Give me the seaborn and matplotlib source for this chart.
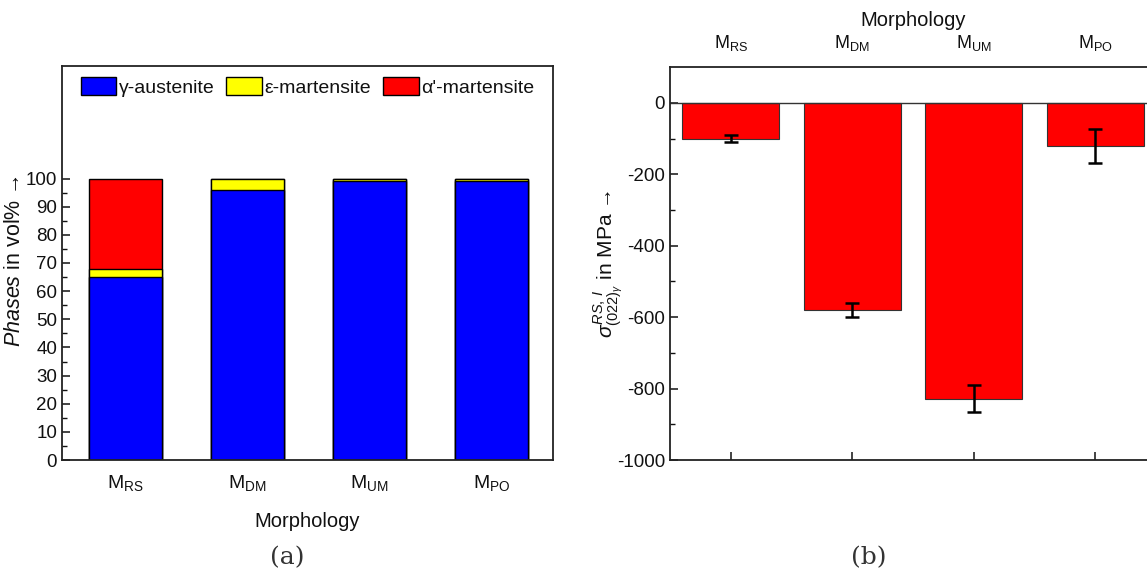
import numpy as np
import pandas as pd
import matplotlib
matplotlib.use("Agg")
import matplotlib.pyplot as plt
from matplotlib.patches import Patch
from matplotlib.ticker import FixedLocator
import seaborn as sns

# data
morph = ["RS", "DM", "UM", "PO"]
gamma = [65, 96, 99, 99]      # gamma-austenite, vol%
eps = [3, 4, 1, 1]            # epsilon-martensite, vol%
alpha = [32, 0, 0, 0]         # alpha'-martensite, vol%
stress = [-100, -580, -828, -121]   # residual stress, MPa
stress_err = [11, 20, 37, 47]

labels = [r"M$_{\mathrm{%s}}$" % m for m in morph]

sns.set_theme(style="ticks")
plt.rcParams["font.family"] = ["Liberation Sans", "DejaVu Sans"]
plt.rcParams["mathtext.fontset"] = "custom"
plt.rcParams["mathtext.rm"] = "Liberation Sans"
plt.rcParams["mathtext.it"] = "Liberation Sans:italic"
plt.rcParams["mathtext.bf"] = "Liberation Sans:bold"
plt.rcParams["axes.unicode_minus"] = False
plt.rcParams["axes.linewidth"] = 1.3
plt.rcParams["axes.edgecolor"] = "#222222"
for k in ["text.color", "axes.labelcolor", "xtick.color", "ytick.color"]:
    plt.rcParams[k] = "#111111"

fig = plt.figure(figsize=(11.47, 5.78), dpi=100)
ax1 = fig.add_axes([0.054, 0.204, 0.428, 0.682])
ax2 = fig.add_axes([0.584, 0.204, 0.424, 0.680])

# (a) stacked phase fractions
df = pd.DataFrame({"morph": labels, "gamma": gamma, "eps": eps, "alpha": alpha})
df["top_eps"] = df["gamma"] + df["eps"]
df["top_alpha"] = df["top_eps"] + df["alpha"]

sns.barplot(data=df, x="morph", y="top_alpha", color="#ff0000", saturation=1,
            width=0.6, edgecolor="black", linewidth=1, ax=ax1)
sns.barplot(data=df, x="morph", y="top_eps", color="#ffff00", saturation=1,
            width=0.6, edgecolor="black", linewidth=1, ax=ax1)
sns.barplot(data=df, x="morph", y="gamma", color="#0000ff", saturation=1,
            width=0.6, edgecolor="black", linewidth=1, ax=ax1)

ax1.set_xlim(-0.52, 3.5)
ax1.set_ylim(0, 140)
ax1.set_yticks(np.arange(0, 101, 10))
ax1.yaxis.set_minor_locator(FixedLocator(np.arange(5, 100, 10)))
ax1.tick_params(axis="both", direction="in", labelsize=13.5, length=6, width=1.1)
ax1.tick_params(axis="y", which="minor", direction="in", length=3.5, width=1)
ax1.tick_params(axis="x", pad=9, labelsize=14)
ax1.set_xlabel("Morphology", fontsize=14.5, labelpad=14)
ax1.set_ylabel(r"$\mathit{Phases}$ in vol% →", fontsize=15.5)
ax1.yaxis.set_label_coords(-0.075, 0.505)

handles = [Patch(facecolor="#0000ff", edgecolor="black", label="γ-austenite"),
           Patch(facecolor="#ffff00", edgecolor="black", label="ε-martensite"),
           Patch(facecolor="#ff0000", edgecolor="black", label="α'-martensite")]
ax1.legend(handles=handles, loc="upper center", ncol=3, frameon=False, fontsize=14,
           handlelength=1.85, handleheight=1.0, handletextpad=0.12, columnspacing=0.6,
           bbox_to_anchor=(0.5, 1.015))

# (b) residual stress
df2 = pd.DataFrame({"morph": labels, "stress": stress, "err": stress_err})
sns.barplot(data=df2, x="morph", y="stress", color="#ff0000", saturation=1,
            width=0.8, edgecolor="#333333", linewidth=0.8, ax=ax2)
ax2.errorbar(np.arange(len(morph)), df2["stress"], yerr=df2["err"], fmt="none",
             ecolor="black", elinewidth=1.8, capsize=5, capthick=1.8)
ax2.axhline(0, color="#333333", linewidth=1)

ax2.set_xlim(-0.5, 3.5)
ax2.set_ylim(-1000, 100)
ax2.set_yticks(np.arange(-1000, 1, 200))
ax2.yaxis.set_minor_locator(FixedLocator(np.arange(-900, 0, 200)))
ax2.tick_params(axis="both", direction="in", labelsize=13.5, length=6, width=1.1)
ax2.tick_params(axis="y", which="minor", direction="in", length=3.5, width=1)
ax2.tick_params(axis="x", bottom=True, top=False, labelbottom=False, labeltop=True,
                pad=10, labelsize=13)
ax2.xaxis.set_label_position("top")
ax2.set_xlabel("Morphology", fontsize=14.5, labelpad=5)
ax2.set_ylabel(r"$\sigma^{RS,\,I}_{(022)_{\gamma}}$ in MPa →", fontsize=15)
ax2.yaxis.set_label_coords(-0.092, 0.5)
ax2.spines["right"].set_visible(False)

fig.text(0.25, 0.035, "(a)", fontsize=18, family="DejaVu Serif", ha="center", va="center", color="#333333")
fig.text(0.757, 0.035, "(b)", fontsize=18, family="DejaVu Serif", ha="center", va="center", color="#333333")

fig.savefig("out.png", dpi=100)
